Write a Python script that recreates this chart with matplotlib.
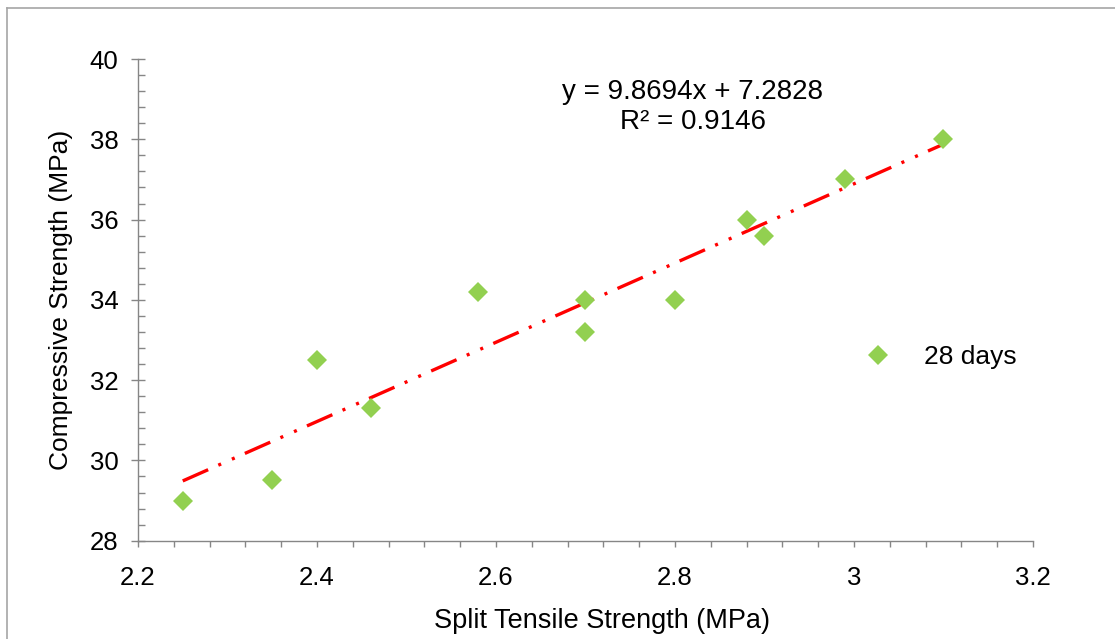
import numpy as np
import matplotlib
matplotlib.use("Agg")
import matplotlib.pyplot as plt
from matplotlib.lines import Line2D
from matplotlib.ticker import MultipleLocator, FuncFormatter

plt.rcParams['font.family'] = ['Liberation Sans', 'DejaVu Sans']
plt.rcParams['lines.scale_dashes'] = False

# split tensile vs compressive strength at 28 days
split_tensile = [2.25, 2.35, 2.40, 2.46, 2.58, 2.70, 2.70, 2.80, 2.88, 2.90, 2.99, 3.10]
compressive = [29.0, 29.5, 32.5, 31.3, 34.2, 34.0, 33.2, 34.0, 36.0, 35.6, 37.0, 38.0]
series_name = "28 days"
eq_text = "y = 9.8694x + 7.2828"
r2_text = "R² = 0.9146"

W, H = 1115, 639
fig = plt.figure(figsize=(W / 100, H / 100), dpi=100)
ax = fig.add_axes([138 / W, 1 - 540.7 / H, (1033 - 138) / W, (540.7 - 59) / H])

# outer chart frame (left and top edges visible)
fig.add_artist(Line2D([7 / W, 7 / W], [0, 1 - 8 / H], color='#a6a6a6', lw=1.2,
                      transform=fig.transFigure))
fig.add_artist(Line2D([7 / W, 1], [1 - 8 / H, 1 - 8 / H], color='#a6a6a6', lw=1.2,
                      transform=fig.transFigure))

x = np.array(split_tensile)
y = np.array(compressive)

# linear trendline, long dash - dot - dot
slope, intercept = np.polyfit(x, y, 1)
xs = np.array([x.min(), x.max()])
ax.plot(xs, slope * xs + intercept, color='#ff0000', lw=2.4,
        dashes=(20, 8, 2.2, 8.5, 2.2, 8), dash_capstyle='butt', zorder=2)

ax.plot(x, y, linestyle='none', marker='D', ms=10.5, color='#92d050',
        markeredgewidth=0, label=series_name, zorder=3)

ax.set_xlim(2.2, 3.2)
ax.set_ylim(28, 40)
ax.xaxis.set_major_locator(MultipleLocator(0.2))
ax.xaxis.set_minor_locator(MultipleLocator(0.04))
ax.yaxis.set_major_locator(MultipleLocator(2))
ax.yaxis.set_minor_locator(MultipleLocator(0.4))
ax.xaxis.set_major_formatter(FuncFormatter(lambda v, p: f"{v:g}"))

for s in ['top', 'right']:
    ax.spines[s].set_visible(False)
for s in ['left', 'bottom']:
    ax.spines[s].set_color('#868686')
    ax.spines[s].set_linewidth(1.0)

ax.tick_params(axis='x', which='both', direction='out', length=4.5, width=1,
               color='#868686', labelsize=18.5, pad=14)
ax.tick_params(axis='y', which='major', direction='inout', length=10, width=1,
               color='#868686', labelsize=18.5, pad=9)
ax.tick_params(axis='y', which='minor', direction='in', length=5, width=1,
               color='#868686')

ax.set_xlabel("Split Tensile Strength (MPa)", fontsize=19.5, labelpad=12)
ax.xaxis.set_label_coords((602 - 138) / (1033 - 138), -0.14)
ax.set_ylabel("Compressive Strength (MPa)", fontsize=19, labelpad=12)

fig.text(693 / W, 1 - 92 / H, eq_text, fontsize=20, ha='center', va='center')
fig.text(693 / W, 1 - 122 / H, r2_text, fontsize=20, ha='center', va='center')

ax.legend(loc='center left', bbox_to_anchor=(845 / W, 1 - 357 / H),
          bbox_transform=fig.transFigure, frameon=False, fontsize=19,
          handletextpad=1.0, handlelength=1.5, borderpad=0)

fig.savefig("out.png", dpi=100)
